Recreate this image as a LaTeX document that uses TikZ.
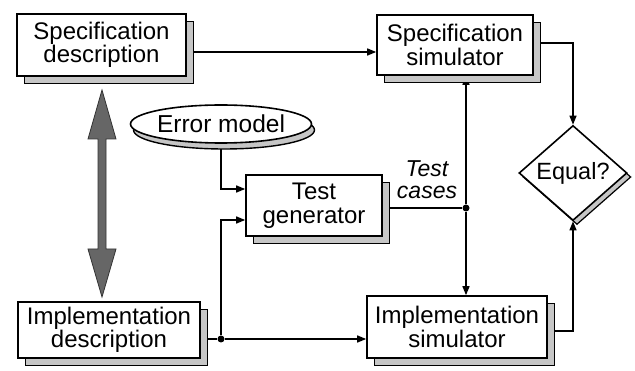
\documentclass[tikz,border=0pt]{standalone}
\usepackage{fontspec}
\setmainfont{Liberation Sans}
\usetikzlibrary{shapes.geometric,shadows,arrows.meta,calc}
\pgfdeclarelayer{bg}
\pgfsetlayers{bg,main}
\tikzset{
  box/.style={draw=black, line width=1.6pt, fill=white, inner sep=0pt, align=center,
    font=\fontsize{24}{21.5}\selectfont,
    copy shadow={shadow xshift=7.5pt, shadow yshift=-7.5pt, fill=gray!45, draw=black, line width=1.4pt}},
  oval/.style={ellipse, draw=black, line width=1.6pt, fill=white, inner sep=0pt,
    font=\fontsize{24.5}{21}\selectfont,
    copy shadow={shadow xshift=3pt, shadow yshift=-6pt, fill=gray!45, draw=black, line width=1.4pt}},
  decide/.style={diamond, draw=black, line width=1.6pt, fill=white, inner sep=0pt,
    font=\fontsize{23.5}{21}\selectfont,
    copy shadow={shadow xshift=4pt, shadow yshift=-4pt, fill=gray!45, draw=black, line width=1.2pt}},
  conn/.style={draw=black, line width=1.4pt},
  arr/.style={conn, -{Triangle[length=9pt,width=7pt]}},
  junction/.style={circle, fill=black, inner sep=0pt, minimum size=7pt},
  label/.style={font=\fontsize{23}{22}\selectfont\itshape, align=center, inner sep=0pt}
}
\begin{document}
\begin{tikzpicture}[x=1pt,y=-1pt]
\useasboundingbox (0,0) rectangle (635,371);

\node[box, minimum width=169pt, minimum height=62pt] (SD) at (101.5,45) {Specification\\description};
\node[box, minimum width=156pt, minimum height=60pt] (SS) at (455,45) {Specification\\simulator};
\node[box, minimum width=136pt, minimum height=61pt, font=\fontsize{24}{23.5}\selectfont] (TG) at (314,205.5) {Test\\generator};
\node[box, minimum width=182pt, minimum height=56pt] (ID) at (109,330) {Implementation\\description};
\node[box, minimum width=180pt, minimum height=62pt] (IS) at (457,327) {Implementation\\simulator};
\node[oval, minimum width=146pt, minimum height=38pt] (EM) at (221,124) {Error model};
\node[decide, minimum width=108pt, minimum height=86pt] (EQ) at (573,173) {Equal?};
\node[label] (TC) at (427,180) {Test\\cases};

\node[junction] (J1) at (466,208) {};
\node[junction] (J2) at (221,339) {};

\begin{pgfonlayer}{bg}
\draw[arr] ([yshift=-7pt]SD.east) -- ([yshift=-7pt]SS.west);
\draw[arr] ([yshift=2pt]SS.east) -| (EQ.north);
\draw[arr] ([yshift=-4pt]IS.east) -| (EQ.south);
\draw[conn] ([yshift=-2.5pt]TG.east) -- (J1);
\draw[arr] (J1) -- (J1 |- SS.south);
\draw[arr] (J1) -- (J1 |- IS.north);
\draw[arr] (EM.south) |- ([yshift=16.5pt]TG.west);
\draw[arr] (J2) |- ([yshift=-14.5pt]TG.west);
\draw[conn] ([yshift=-9pt]ID.east) -- (J2);
\draw[arr] (J2) -- (J2 -| IS.west);
\end{pgfonlayer}

% thick gray double arrow between the two descriptions
\draw[fill=black!60, draw=black!80, line width=0.8pt]
  (102,90) -- (116,139) -- (106,139) -- (106,249) -- (116,249) -- (102,297)
  -- (88,249) -- (98,249) -- (98,139) -- (88,139) -- cycle;
\end{tikzpicture}
\end{document}
